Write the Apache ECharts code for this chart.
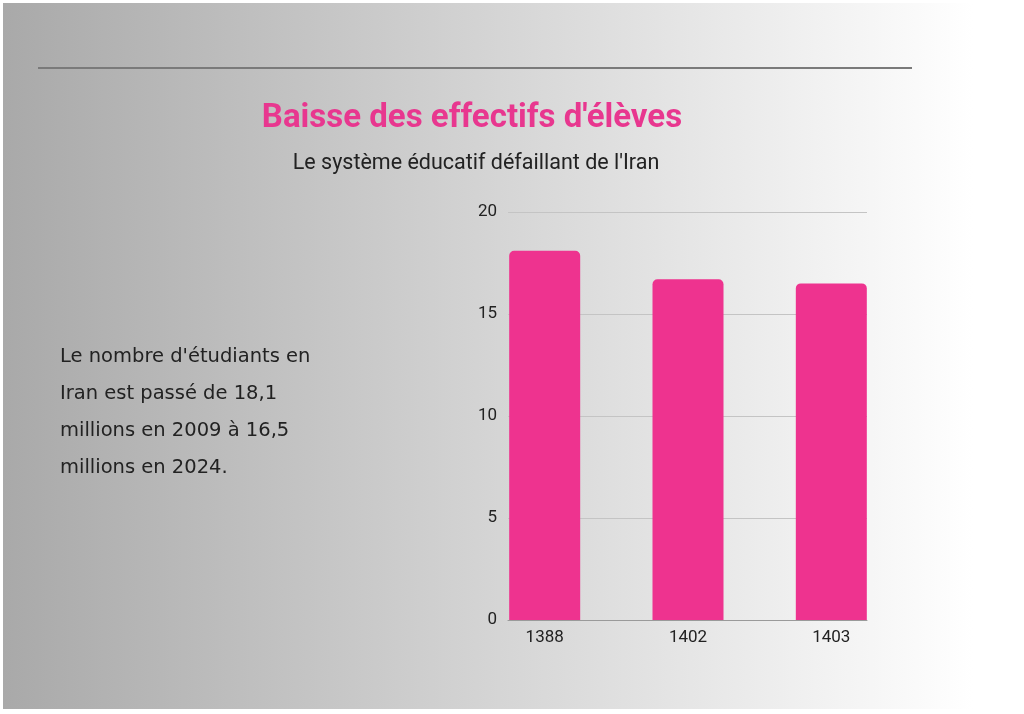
<!DOCTYPE html>
<html><head><meta charset="utf-8">
<style>html,body{margin:0;padding:0;background:#fff;}#c{width:1024px;height:714px;}</style>
<script src="https://cdn.jsdelivr.net/npm/echarts@6/dist/echarts.min.js"></script>
</head><body><div id="c"></div>
<script>
const categories = ['1388', '1402', '1403'];
const values = [18.1, 16.7, 16.5];
const yTicks = [0, 5, 10, 15, 20];
const titleText = "Baisse des effectifs d'élèves";
const subtitleText = "Le système éducatif défaillant de l'Iran";
const noteLines = ["Le nombre d'étudiants en", "Iran est passé de 18,1", "millions en 2009 à 16,5", "millions en 2024."];

const chart = echarts.init(document.getElementById('c'), null, {renderer: 'canvas'});
const graphics = [
  {type: 'rect', z: -10, silent: true, shape: {x: 3, y: 3, width: 1021, height: 706},
   style: {fill: new echarts.graphic.LinearGradient(0, 0, 1, 0, [{offset: 0, color: '#a9a9a9'}, {offset: 0.95, color: '#ffffff'}, {offset: 1, color: '#ffffff'}])}},
  {type: 'line', shape: {x1: 38, y1: 68, x2: 912, y2: 68}, style: {stroke: '#7a7a7a', lineWidth: 2}},
  {type: 'text', x: 472, y: 119, style: {text: titleText, fill: '#e8378f', font: 'bold 33px Roboto', align: 'center', verticalAlign: 'middle'}},
  {type: 'text', x: 476, y: 164, style: {text: subtitleText, fill: '#222', font: '21.5px Roboto', align: 'center', verticalAlign: 'middle'}}
];
noteLines.forEach((t, i) => {
  graphics.push({type: 'text', x: 60, y: 357 + i * 37, style: {text: t, fill: '#222', font: '19.5px "DejaVu Sans"', align: 'left', verticalAlign: 'middle'}});
});

chart.setOption({
  animation: false,
  graphic: graphics,
  grid: {left: 508, right: 157, top: 212, bottom: 94},
  xAxis: {
    type: 'value', min: -0.256, max: 2.249,
    splitLine: {show: false},
    axisLine: {show: true, lineStyle: {color: '#9a9a9a', width: 1}},
    axisTick: {show: false},
    axisLabel: {customValues: categories.map((c, i) => i), formatter: v => categories[Math.round(v)] || '', color: '#222', fontSize: 17, fontFamily: 'Roboto', margin: 9}
  },
  yAxis: {
    type: 'value', min: 0, max: 20, interval: 5,
    axisLine: {show: false}, axisTick: {show: false},
    splitLine: {lineStyle: {color: '#c4c4c4', width: 1}},
    axisLabel: {customValues: yTicks, color: '#222', fontSize: 17, fontFamily: 'Roboto', margin: 11}
  },
  series: [{
    type: 'bar', barWidth: 71, clip: false,
    data: values.map((v, i) => [i, v]),
    itemStyle: {color: '#ee338f', borderRadius: [5, 5, 0, 0]}
  }]
});
</script></body></html>
